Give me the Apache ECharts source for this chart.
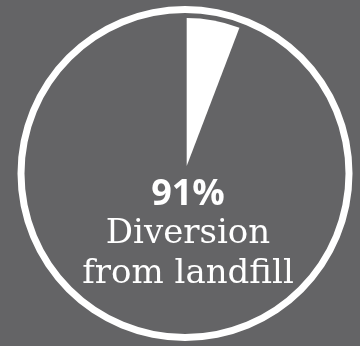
<!DOCTYPE html>
<html>
<head>
<meta charset="utf-8">
<script src="https://cdn.jsdelivr.net/npm/echarts@6/dist/echarts.min.js"></script>
<style>
  html, body { margin: 0; padding: 0; background: #646466; }
  #chart { width: 360px; height: 346px; }
</style>
</head>
<body>
<div id="chart"></div>
<script>
// wedge as drawn: small white slice from 12 o'clock, rest empty
const sliceNames = ['Landfill', 'Diverted'];
const sliceValues = [5.8, 94.2];
const headline = '91%';
const captionLines = ['Diversion', 'from landfill'];

const chart = echarts.init(document.getElementById('chart'));

const option = {
  backgroundColor: '#646466',
  animation: false,
  title: {
    left: 188,
    top: 176,
    padding: 0,
    textAlign: 'center',
    text: '{big|' + headline + '}\n' + captionLines.map(s => '{cap|' + s + '}').join('\n'),
    textStyle: {
      fontWeight: 'normal',
      rich: {
        big: {
          color: '#ffffff',
          fontFamily: 'Open Sans',
          fontWeight: 'bold',
          fontSize: 36,
          lineHeight: 38
        },
        cap: {
          color: '#ffffff',
          fontFamily: 'DejaVu Serif',
          fontWeight: 'normal',
          fontSize: 34,
          lineHeight: 40
        }
      }
    }
  },
  series: [
    {
      // outer ring
      type: 'pie',
      silent: true,
      center: [185, 173.5],
      radius: [160.5, 167.5],
      label: { show: false },
      labelLine: { show: false },
      itemStyle: { color: '#ffffff', borderWidth: 0 },
      data: [{ name: 'ring', value: 1 }]
    },
    {
      type: 'pie',
      silent: true,
      center: [186.7, 166],
      radius: [0, 148],
      startAngle: 90,
      clockwise: true,
      label: { show: false },
      labelLine: { show: false },
      itemStyle: { borderWidth: 0 },
      data: sliceNames.map((n, i) => ({
        name: n,
        value: sliceValues[i],
        itemStyle: { color: i === 0 ? '#ffffff' : 'rgba(0,0,0,0)' }
      }))
    }
  ]
};

chart.setOption(option);
window.onresize = () => { chart.resize(); };
</script>
</body>
</html>
